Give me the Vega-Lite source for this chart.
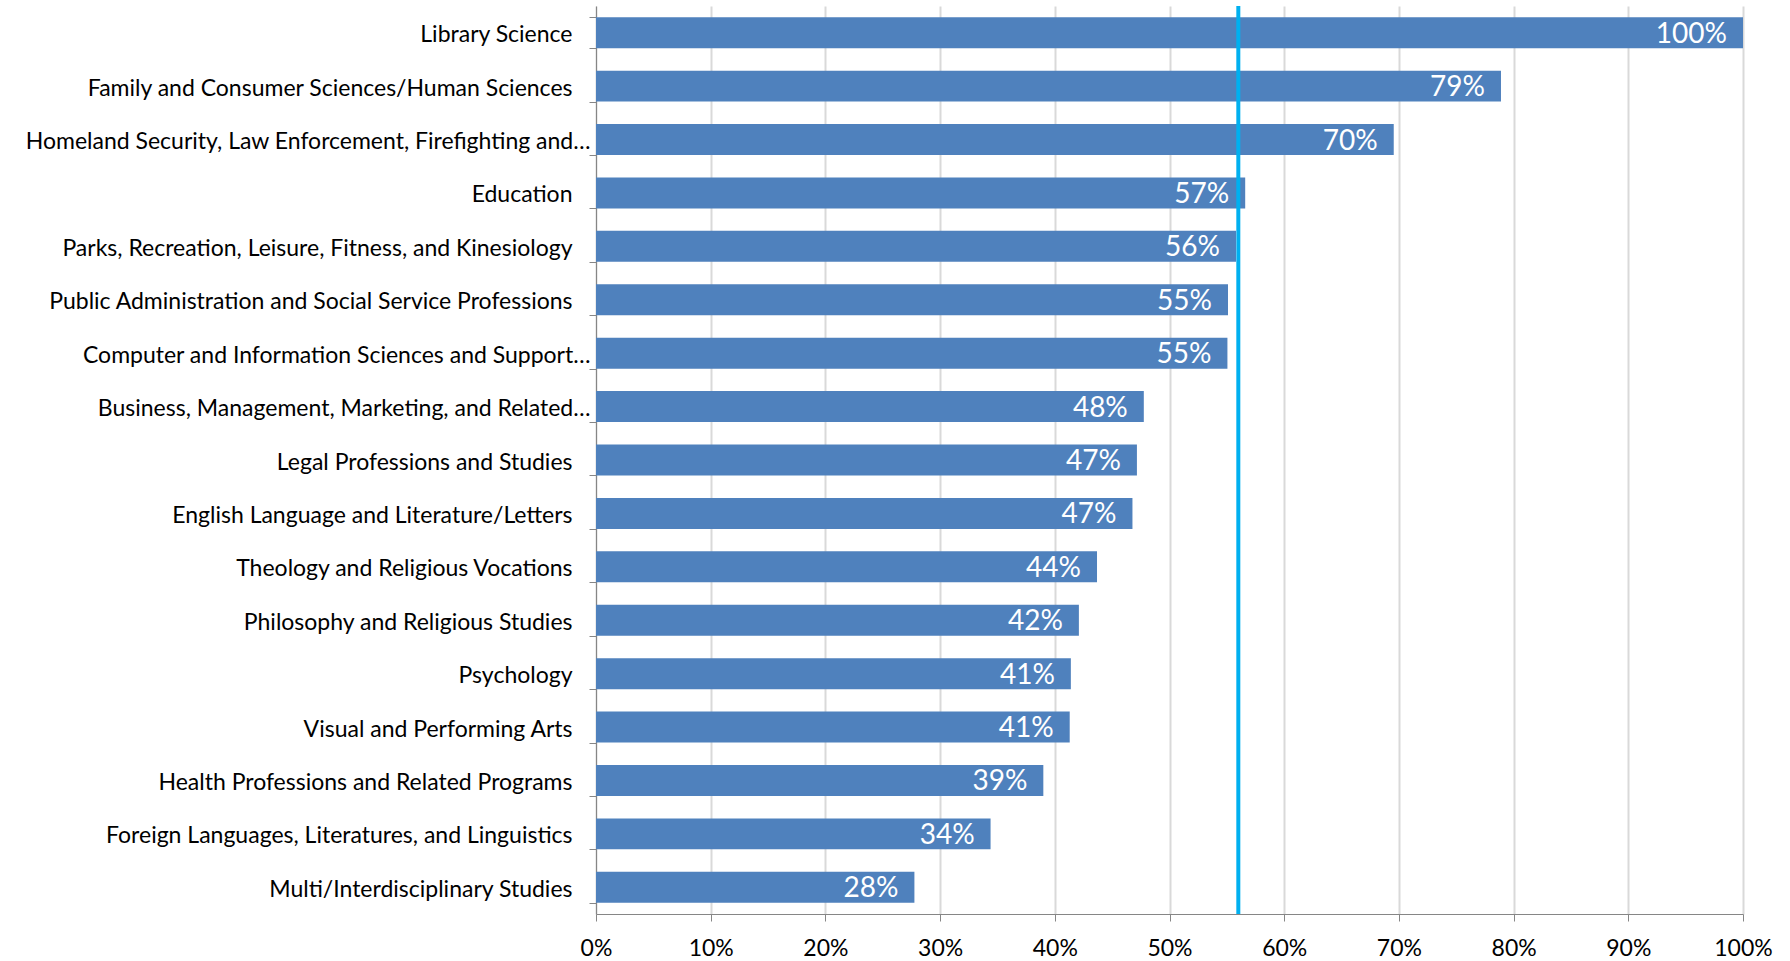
{
  "$schema": "https://vega.github.io/schema/vega-lite/v6.json",
  "autosize": {"type": "none"},
  "padding": {"left": 596, "top": 6, "right": 47, "bottom": 47},
  "width": 1147,
  "height": 908,
  "background": "white",
  "config": {
    "view": {"stroke": null},
    "font": "Lato"
  },
  "data": {
    "values": [
      {"field": "Library Science", "share": 1.0},
      {"field": "Family and Consumer Sciences/Human Sciences", "share": 0.789},
      {"field": "Homeland Security, Law Enforcement, Firefighting and…", "share": 0.6955},
      {"field": "Education", "share": 0.566},
      {"field": "Parks, Recreation, Leisure, Fitness, and Kinesiology", "share": 0.558},
      {"field": "Public Administration and Social Service Professions", "share": 0.551},
      {"field": "Computer and Information Sciences and Support…", "share": 0.5505},
      {"field": "Business, Management, Marketing, and Related…", "share": 0.4776},
      {"field": "Legal Professions and Studies", "share": 0.4716},
      {"field": "English Language and Literature/Letters", "share": 0.4677},
      {"field": "Theology and Religious Vocations", "share": 0.4368},
      {"field": "Philosophy and Religious Studies", "share": 0.421},
      {"field": "Psychology", "share": 0.414},
      {"field": "Visual and Performing Arts", "share": 0.413},
      {"field": "Health Professions and Related Programs", "share": 0.39},
      {"field": "Foreign Languages, Literatures, and Linguistics", "share": 0.344},
      {"field": "Multi/Interdisciplinary Studies", "share": 0.2776}
    ]
  },
  "encoding": {
    "y": {
      "field": "field",
      "type": "nominal",
      "sort": null,
      "scale": {"paddingInner": 0.42, "paddingOuter": 0.21},
      "axis": {
        "title": null,
        "tickBand": "extent",
        "tickSize": 7,
        "tickColor": "#868686",
        "domainColor": "#868686",
        "labelFontSize": 23,
        "labelColor": "#000000",
        "labelPadding": {"condition": {"test": "indexof(datum.label, '…') >= 0", "value": -1}, "value": 17},
        "labelOffset": 2,
        "labelLimit": 700
      }
    },
    "x": {
      "field": "share",
      "type": "quantitative",
      "scale": {"domain": [0, 1], "nice": false},
      "axis": {
        "title": null,
        "format": ".0%",
        "values": [0, 0.1, 0.2, 0.3, 0.4, 0.5, 0.6, 0.7, 0.8, 0.9, 1.0],
        "grid": true,
        "gridColor": "#D9D9D9",
        "gridWidth": 2,
        "tickSize": 7,
        "tickColor": "#868686",
        "domainColor": "#868686",
        "labelFontSize": 23,
        "labelColor": "#000000",
        "labelPadding": 16,
        "labelOverlap": false,
        "labelFlush": false,
        "labelBound": false
      }
    }
  },
  "layer": [
    {
      "mark": {"type": "bar", "color": "#4F81BD"}
    },
    {
      "mark": {"type": "text", "align": "right", "baseline": "middle", "dx": -16, "dy": 2, "fontSize": 28, "color": "white"},
      "encoding": {
        "text": {"field": "share", "type": "quantitative", "format": ".0%"}
      }
    },
    {
      "data": {"values": [{"avg": 0.56}]},
      "mark": {"type": "rule", "color": "#00B0F0", "strokeWidth": 4},
      "encoding": {
        "x": {"field": "avg", "type": "quantitative"},
        "y": null
      }
    }
  ]
}
